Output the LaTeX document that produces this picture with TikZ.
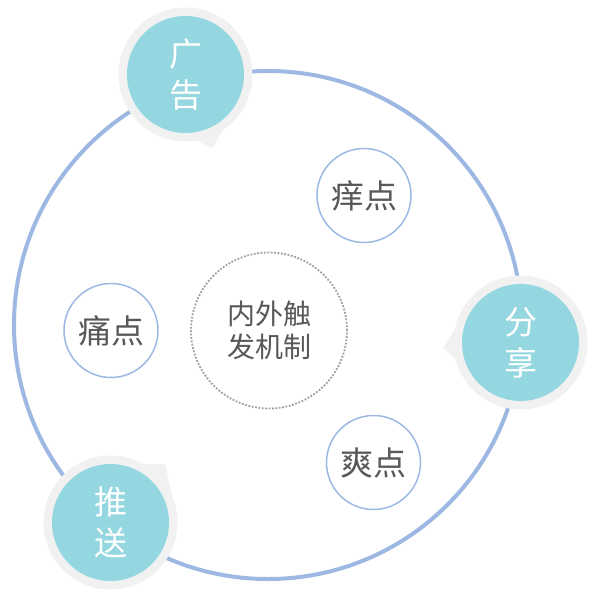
\documentclass[tikz,border=0pt]{standalone}
\usepackage{fontspec}
\newfontfamily\cjk{Noto Sans CJK SC}
\definecolor{ringblue}{RGB}{157,185,227}
\definecolor{teal}{RGB}{149,215,224}
\definecolor{bubblegray}{RGB}{241,241,241}
\definecolor{dotgray}{RGB}{160,160,160}
\definecolor{txtgray}{RGB}{88,88,88}
\tikzset{
  bubble/.style={circle, fill=teal, inner sep=0pt, minimum size=117pt, text=white, align=center, font=\cjk\fontsize{33}{41}\selectfont},
  point/.style={circle, draw=ringblue, line width=1.5pt, fill=white, inner sep=0pt, minimum size=94pt, text=txtgray, font=\cjk\fontsize{33}{40}\selectfont},
  core/.style={circle, draw=dotgray, line width=1.8pt, dash pattern=on 1.8pt off 1.6pt, inner sep=0pt, minimum size=156pt, text=txtgray, align=center, font=\cjk\fontsize{28}{33}\selectfont},
  shade/.style={fill=bubblegray}
}
\begin{document}
\begin{tikzpicture}[x=1pt,y=-1pt]
\useasboundingbox (0,0) rectangle (594,600);
\fill[white] (0,0) rectangle (594,600);
\coordinate (C) at (268,325);
\draw[ringblue, line width=4pt] (C) circle[radius=254];

% inner nodes
\node[core] (mech) at (269,330.5) {内外触\\发机制};
\node[point] (yang) at (364,195.5) {痒点};
\node[point] (tong) at (111,330.5) {痛点};
\node[point] (shuang) at (373.5,462.5) {爽点};

% bubble backgrounds
\coordinate (g) at (185.5,74.5);
\coordinate (f) at (520.5,342.5);
\coordinate (t) at (110.5,522.5);
\fill[shade] (g) circle[radius=67];
\fill[shade] (g) -- (197,141) -- (213,148) -- (222,131) -- cycle;
\fill[shade] (f) circle[radius=67];
\fill[shade] (f) -- (455,329) -- (443,348) -- (455.5,358) -- cycle;
\fill[shade] (t) circle[radius=67];
\fill[shade] (t) -- (143,464.5) -- (165,464) -- (172,496) -- cycle;

% bubbles
\node[bubble] (guang) at (g) {广\\告};
\node[bubble] (fen) at (f) {分\\享};
\node[bubble] (tui) at (t) {推\\送};
\end{tikzpicture}
\end{document}
